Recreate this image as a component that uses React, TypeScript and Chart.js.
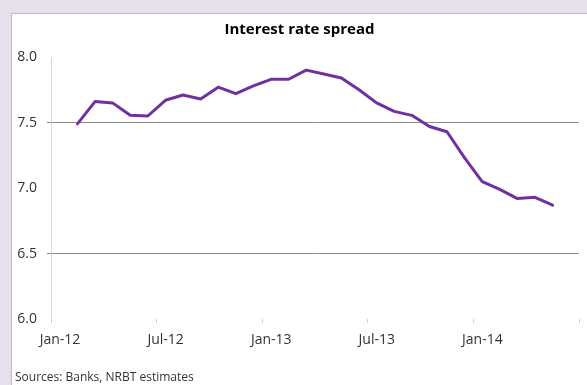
import React, { useEffect, useRef } from "react";
import { Chart, registerables } from "chart.js";

Chart.register(...registerables);

// ---- Data ----
const months = [
  "Feb-12", "Mar-12", "Apr-12", "May-12", "Jun-12", "Jul-12", "Aug-12", "Sep-12", "Oct-12", "Nov-12", "Dec-12",
  "Jan-13", "Feb-13", "Mar-13", "Apr-13", "May-13", "Jun-13", "Jul-13", "Aug-13", "Sep-13", "Oct-13", "Nov-13", "Dec-13",
  "Jan-14", "Feb-14", "Mar-14", "Apr-14", "May-14",
];
const spread = [
  7.49, 7.66, 7.65, 7.555, 7.55, 7.67, 7.71, 7.68, 7.77, 7.72, 7.78,
  7.83, 7.83, 7.9, 7.87, 7.84, 7.75, 7.65, 7.585, 7.555, 7.47, 7.43, 7.23,
  7.05, 6.99, 6.92, 6.93, 6.87,
];
const xTickLabels = ["Jan-12", "Jul-12", "Jan-13", "Jul-13", "Jan-14", ""];
const yTickValues = [6.0, 6.5, 7.0, 7.5, 8.0];
const gridValues = [6.5, 7.5];
const titleText = "Interest rate spread";
const sourceText = "Sources: Banks, NRBT estimates";

const MONTH_NAMES = ["Jan", "Feb", "Mar", "Apr", "May", "Jun", "Jul", "Aug", "Sep", "Oct", "Nov", "Dec"];
// months since Jan-12
function monthIndex(label: string): number {
  const [m, y] = label.split("-");
  return (parseInt(y, 10) - 12) * 12 + MONTH_NAMES.indexOf(m);
}

export default function App() {
  const canvasRef = useRef<HTMLCanvasElement | null>(null);

  useEffect(() => {
    if (!canvasRef.current) return;
    const FONT = "'Open Sans', sans-serif";
    const chart = new Chart(canvasRef.current, {
      type: "line",
      data: {
        datasets: [
          {
            label: titleText,
            data: months.map((m, i) => ({ x: monthIndex(m), y: spread[i] })),
            borderColor: "#7030a0",
            backgroundColor: "#7030a0",
            borderWidth: 3,
            pointRadius: 0,
            tension: 0,
            borderJoinStyle: "round",
            borderCapStyle: "round",
          },
        ],
      },
      options: {
        animation: false,
        responsive: false,
        devicePixelRatio: 1,
        layout: { padding: { left: 14, right: 2, top: 0, bottom: 29 } },
        plugins: {
          legend: { display: false },
          tooltip: { enabled: false },
          title: {
            display: true,
            text: titleText,
            color: "#000",
            font: { family: FONT, size: 15, weight: "bold" },
            padding: { top: 21, bottom: 18 },
          },
        },
        scales: {
          x: {
            type: "linear",
            min: -0.5,
            max: 29.5,
            afterBuildTicks: (scale: any) => {
              scale.ticks = xTickLabels.map((_, i) => ({ value: -0.5 + 6 * i }));
            },
            border: { display: false },
            grid: {
              drawOnChartArea: false,
              drawTicks: true,
              tickLength: 4,
              color: "#d0d0d0",
            },
            ticks: {
              autoSkip: false,
              maxRotation: 0,
              padding: 8,
              labelOffset: 9,
              color: "#333",
              font: { family: FONT, size: 14 },
              callback: (_v: any, i: number) => xTickLabels[i],
            },
          },
          y: {
            min: 6,
            max: 8,
            afterBuildTicks: (scale: any) => {
              scale.ticks = yTickValues.map((v) => ({ value: v }));
            },
            afterFit: (scale: any) => {
              scale.width = 37;
            },
            border: { display: true, color: "#d6d6d6", width: 1 },
            grid: {
              drawTicks: true,
              tickLength: 4,
              lineWidth: 1,
              color: (ctx: any) =>
                ctx.tick && gridValues.includes(ctx.tick.value) ? "#8a8a8a" : "rgba(0,0,0,0)",
            },
            ticks: {
              padding: 10,
              color: "#333",
              font: { family: FONT, size: 14 },
              callback: (v: any) => Number(v).toFixed(1),
            },
          },
        },
      },
    });
    return () => chart.destroy();
  }, []);

  return (
    <div
      style={{
        position: "fixed",
        left: 0,
        top: 0,
        width: 587,
        height: 385,
        overflow: "hidden",
        background: "#e5e0ec",
      }}
    >
      <div
        style={{
          position: "absolute",
          left: 11,
          top: 13,
          width: 600,
          height: 400,
          background: "#fff",
          borderLeft: "1.5px solid #bdbdbd",
          borderTop: "1.5px solid #bdbdbd",
        }}
      />
      <canvas
        ref={canvasRef}
        width={587}
        height={385}
        style={{ position: "absolute", left: 0, top: 0, width: 587, height: 385 }}
      />
      <div
        style={{
          position: "absolute",
          left: 15,
          top: 369,
          fontFamily: "'Open Sans', sans-serif",
          fontSize: 12,
          color: "#333",
          whiteSpace: "nowrap",
          lineHeight: "16px",
        }}
      >
        {sourceText}
      </div>
    </div>
  );
}
